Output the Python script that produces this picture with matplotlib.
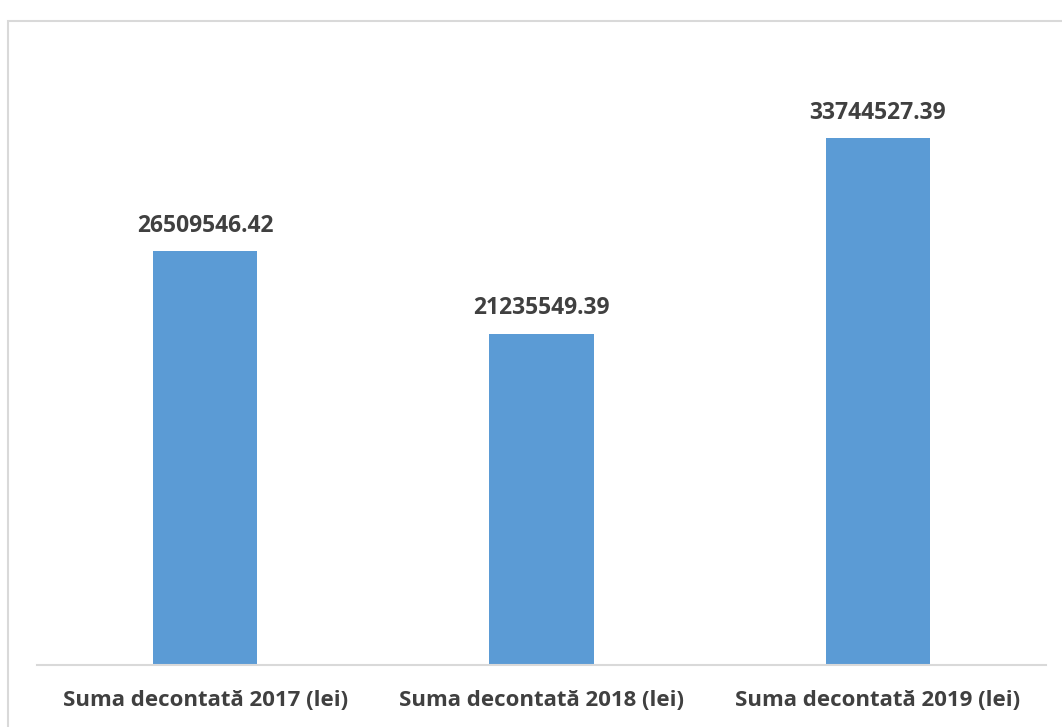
import matplotlib.pyplot as plt
from matplotlib.patches import Rectangle

categories = ["Suma decontată 2017 (lei)", "Suma decontată 2018 (lei)", "Suma decontată 2019 (lei)"]
values = [26509546.42, 21235549.39, 33744527.39]
value_labels = ["26509546.42", "21235549.39", "33744527.39"]

plt.rcParams['font.family'] = ['Open Sans', 'DejaVu Sans']

fig = plt.figure(figsize=(10.62, 7.27), dpi=100)
ax = fig.add_axes([0.0348, 0.0846, 0.9502, 0.8593])

# outer chart frame (cut off on the right and bottom)
fig.patches.append(Rectangle((8 / 1062, -0.1), 1.2, (727 - 21) / 727 + 0.1,
                             transform=fig.transFigure, fill=False,
                             edgecolor='#D9D9D9', linewidth=1.5))

x = range(len(categories))
bars = ax.bar(x, values, width=0.31, color='#5B9BD5')

for b, lab in zip(bars, value_labels):
    ax.annotate(lab, (b.get_x() + b.get_width() / 2, b.get_height()),
                xytext=(0, 10), textcoords='offset points',
                ha='center', va='bottom', fontsize=16.5, fontweight='bold',
                color='#404040')

ax.set_xlim(-0.5, 2.5)
ax.set_ylim(0, 40000000)
ax.set_xticks(list(x))
ax.set_xticklabels(categories, fontsize=16, fontweight='bold', color='#404040')
ax.tick_params(axis='x', length=0, pad=18)
ax.set_yticks([])
for s in ['top', 'right', 'left']:
    ax.spines[s].set_visible(False)
ax.spines['bottom'].set_color('#D9D9D9')
ax.spines['bottom'].set_linewidth(1.5)

fig.savefig('out.png', dpi=100)
